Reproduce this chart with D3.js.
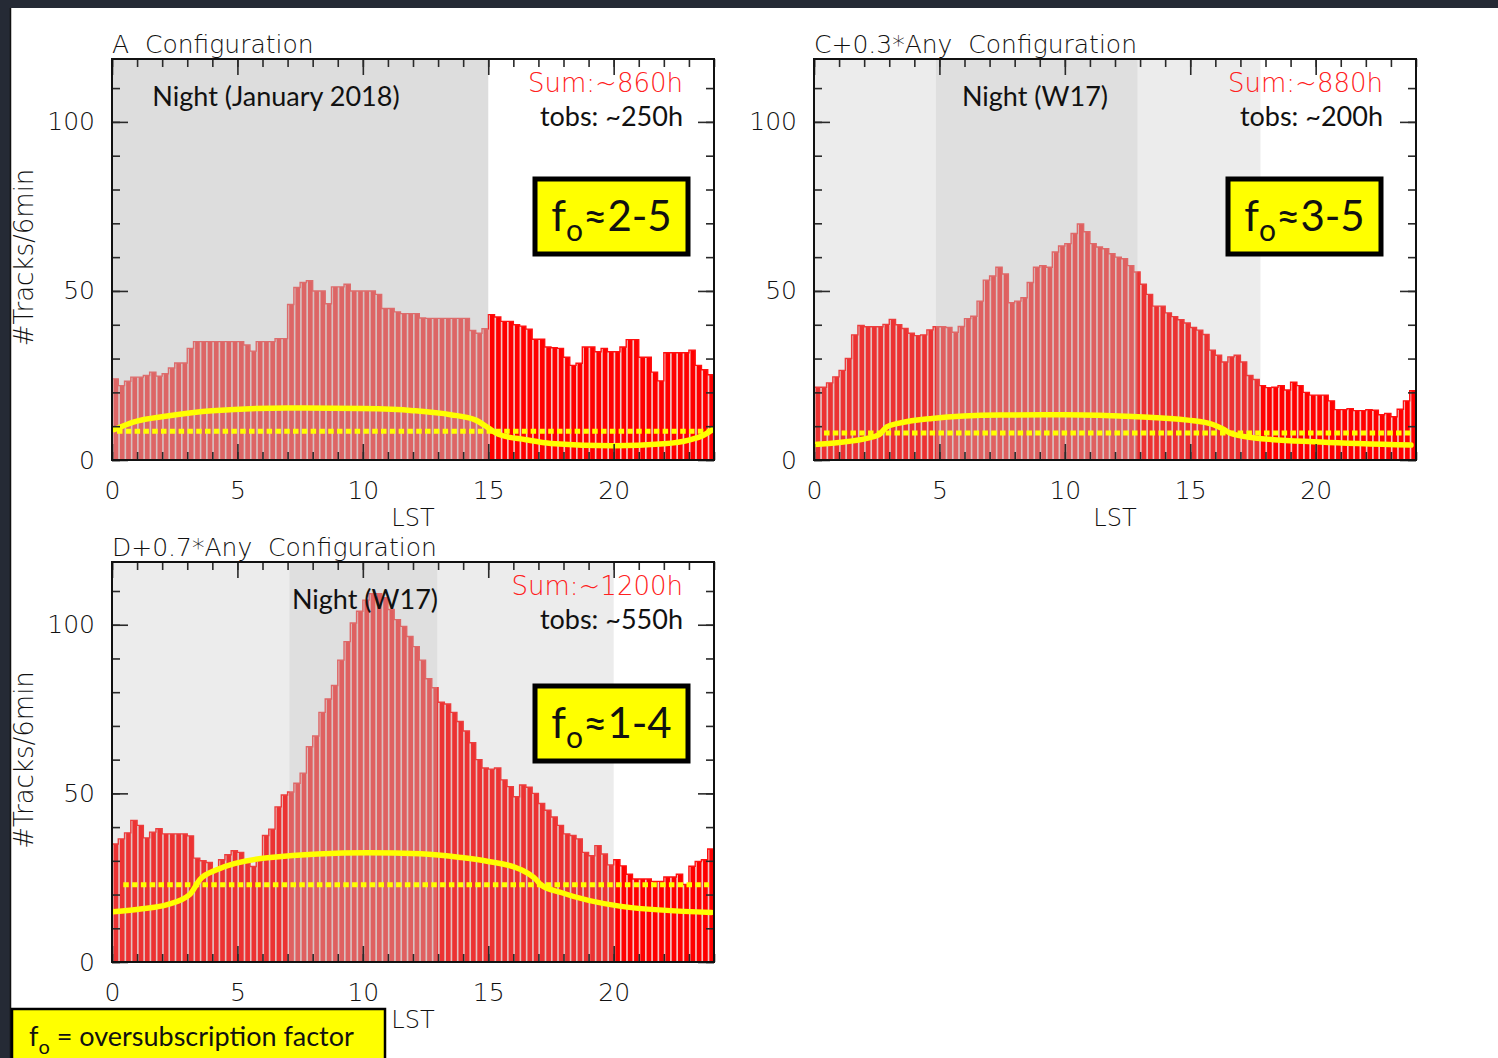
<!DOCTYPE html>
<html>
<head>
<meta charset="utf-8">
<script src="https://cdn.jsdelivr.net/npm/d3@7"></script>
<style>
  html, body { margin: 0; padding: 0; background: #262b36; }
  svg { display: block; }
  .pg { font-family: "DejaVu Sans", sans-serif; font-weight: 200; }
  .cal { font-family: "Lato", "Open Sans", sans-serif; }
</style>
</head>
<body>
<svg id="chart" width="1498" height="1058"></svg>
<script>
// Number of tracks per 6-minute slot, grouped into quarter-hour bins of LST (0..24 h)
const binWidth = 0.25;

const tracksA = [
  24, 22, 23.3, 24.5, 24.5, 25, 26, 24.8, 25.5, 27.2, 28.7, 28.7,
  33, 35, 35, 35, 35, 35, 35, 35, 35, 34, 32.2, 35,
  35, 35, 35.9, 35.9, 46, 51, 52.5, 53, 50, 50, 46.2, 51.2,
  51.2, 52, 50, 50, 50, 50, 49, 44.8, 44.8, 43.8, 43.3, 43.3,
  43.3, 42, 41.9, 41.9, 41.9, 41.9, 41.9, 41.9, 41.9, 38.3, 37.5, 38.8,
  43, 42.3, 41, 41, 40, 39.6, 38.7, 35.7, 35.7, 33.4, 33.2, 33,
  30.4, 28, 28.6, 33.4, 33.4, 32, 33, 32, 32, 33.4, 35.6, 35.6,
  30.4, 30.4, 26, 23.4, 31.7, 31.7, 31.7, 31.7, 32.5, 28, 26.7, 25.2
];

const tracksC = [
  21.5, 21.5, 22.8, 24.6, 26.5, 30, 37, 39.8, 39.4, 39.4, 39.4, 40.1,
  41.6, 40, 38.9, 37.5, 36.8, 37, 38.5, 39.4, 39.4, 39.2, 37.8, 39.5,
  41.8, 42.5, 47, 53.2, 54.4, 57, 55, 46.5, 47, 48, 52.5, 57,
  57.5, 57, 61.5, 63.3, 64, 67, 69.8, 67.5, 64, 63, 62.5, 61,
  60, 59.5, 57.5, 55.6, 52, 49, 45.5, 45.5, 43.5, 42.4, 41.5, 40.5,
  39.2, 38.4, 37.1, 32.5, 31, 29, 30.5, 31, 29, 25, 23.8, 22,
  21.4, 21.5, 22, 20.7, 23, 22, 20, 19.2, 19.2, 19.2, 17.5, 14.9,
  14.9, 15.2, 14.6, 14.6, 14.9, 14.7, 13.4, 13.8, 12.8, 15, 17.5, 20.5
];

const tracksD = [
  35, 36.5, 38.3, 42, 40.5, 36.8, 38.5, 39.5, 38, 38, 38, 38,
  37.4, 30.8, 30, 29.5, 27.2, 30.3, 31.8, 33, 32.5, 29.5, 28.3, 30,
  37.5, 39.4, 46, 49.5, 50.4, 53, 56, 63.8, 67, 74, 78, 82,
  89.5, 95, 100.5, 104, 107.3, 109.2, 109.2, 108, 104.5, 101.5, 99.5, 96.5,
  93.5, 89.5, 84, 81.3, 77, 76.5, 74, 71.3, 68.5, 65, 60, 57.5,
  57.2, 57.5, 54, 52, 49, 52.5, 51.8, 50, 47, 45, 43, 40.5,
  38, 37.5, 36.5, 32.5, 31.5, 34.5, 32, 28.8, 30.3, 28.5, 26, 24.6,
  24.6, 24.6, 23.9, 23.9, 25.2, 25.2, 26, 23, 28.4, 29.8, 30.3, 33.5
];

// Available-time curves [LST, tracks] and the flat reference level [from, to, tracks]
const availA = [[0.1, 9.0], [0.85, 11.2], [2.2, 13.0], [4, 14.6], [7, 15.4], [10, 15.2], [12, 14.6],
  [13.5, 13.4], [14.5, 11.8], [15, 9.5], [15.4, 7.6], [16.5, 6.0], [17.5, 4.9], [20, 4.2],
  [22, 4.8], [23, 5.9], [23.6, 7.4], [24, 9.3]];
const availC = [[0, 4.6], [1, 5.2], [2.1, 6.4], [2.6, 7.5], [2.9, 9.8], [3.4, 10.9], [4.7, 12.3],
  [7.4, 13.3], [10, 13.4], [12.7, 12.9], [14.9, 11.8], [15.9, 10.5], [16.3, 9.2], [16.6, 7.9],
  [17.5, 6.6], [20.2, 5.3], [23.8, 4.4]];
const availD = [[0.05, 14.9], [1.2, 15.8], [2.2, 17], [3.1, 20], [3.5, 24.4], [4.2, 27.4], [6.2, 30.9],
  [10.2, 32.4], [12.3, 32.1], [13.9, 31], [15, 29.8], [16.3, 27.4], [16.9, 24.5], [17.1, 22.9],
  [17.9, 20.6], [20.3, 16.5], [23.9, 14.7]];
const levelA = [0.2, 23.8, 8.5];
const levelC = [0.4, 23.8, 8.0];
const levelD = [0.45, 23.8, 22.9];

// Night windows [start LST, end LST, shade]
const nightA = [[0, 15, "dark"]];
const nightC = [[0, 4.86, "light"], [4.86, 12.9, "dark"], [12.9, 17.8, "light"]];
const nightD = [[0, 7.07, "light"], [7.07, 12.97, "dark"], [12.97, 20.0, "light"]];

const titles = ["A  Configuration", "C+0.3*Any  Configuration", "D+0.7*Any  Configuration"];
const nightLabels = ["Night (January 2018)", "Night (W17)", "Night (W17)"];
const sumLabels = ["Sum:~860h", "Sum:~880h", "Sum:~1200h"];
const tobsLabels = ["tobs: ~250h", "tobs: ~200h", "tobs: ~550h"];
const foRanges = ["≈2-5", "≈3-5", "≈1-4"];
const xMajorTicks = [0, 5, 10, 15, 20];
const yMajorTicks = [0, 50, 100];

const svg = d3.select("#chart");

// backdrop: dark border and white sheet
svg.append("rect").attr("width", 1498).attr("height", 1058).attr("fill", "#252a35");
svg.append("rect").attr("x", 10).attr("y", 8).attr("width", 1488).attr("height", 1050).attr("fill", "#ffffff");
svg.append("line").attr("x1", 10.5).attr("x2", 10.5).attr("y1", 8).attr("y2", 1058).attr("stroke", "#111").attr("stroke-width", 1.5);

const panels = [
  { x0: 112, y0: 59, w: 602, h: 401, tracks: tracksA, avail: availA, level: levelA, night: nightA,
    nightX: 276, sumX: 683, box: [535, 179], ylabel: true, dark: [190, 0.53] },
  { x0: 814, y0: 59, w: 602, h: 401, tracks: tracksC, avail: availC, level: levelC, night: nightC,
    nightX: 1035, sumX: 1383, box: [1228, 179], ylabel: false, dark: [192, 0.5] },
  { x0: 112, y0: 562, w: 602, h: 400, tracks: tracksD, avail: availD, level: levelD, night: nightD,
    nightX: 365, sumX: 683, box: [535, 686], ylabel: true, dark: [192, 0.5] }
];

const yTop = 118.6;

panels.forEach((p, k) => {
  const x = d3.scaleLinear().domain([0, 24]).range([0, p.w]);
  const y = d3.scaleLinear().domain([0, yTop]).range([p.h, 0]);
  const g = svg.append("g").attr("transform", `translate(${p.x0},${p.y0})`);

  const clipId = "clip" + k;
  g.append("clipPath").attr("id", clipId).append("rect").attr("width", p.w).attr("height", p.h);
  const plot = g.append("g").attr("clip-path", `url(#${clipId})`);

  const bins = p.tracks.map((v, i) => ({ x0: i * binWidth, x1: (i + 1) * binWidth, v }));

  // histogram envelope (shows through as pale stripes between bars)
  plot.append("g").selectAll("rect").data(bins).join("rect")
    .attr("x", d => x(d.x0)).attr("width", d => x(d.x1) - x(d.x0))
    .attr("y", d => y(d.v)).attr("height", d => y(0) - y(d.v))
    .attr("fill", "#f3c4c4");

  // bars
  plot.append("g").selectAll("rect").data(bins).join("rect")
    .attr("x", d => x(d.x0) + 1.6).attr("width", d => x(d.x1) - x(d.x0) - 1.6)
    .attr("y", d => y(d.v)).attr("height", d => y(0) - y(d.v))
    .attr("fill", "#ff0000");

  // step outline along the bar tops
  const stepPts = bins.map(d => [d.x0, d.v]).concat([[24, bins[bins.length - 1].v]]);
  plot.append("path").datum(stepPts)
    .attr("d", d3.line().x(d => x(d[0])).y(d => y(d[1])).curve(d3.curveStepAfter))
    .attr("fill", "none").attr("stroke", "#ff1010").attr("stroke-width", 1.4);

  // night shading laid over the histogram
  plot.append("g").selectAll("rect").data(p.night).join("rect")
    .attr("x", d => x(d[0])).attr("width", d => x(d[1]) - x(d[0]))
    .attr("y", 0).attr("height", p.h)
    .attr("fill", d => d[2] === "dark" ? `rgb(${p.dark[0]},${p.dark[0]},${p.dark[0]})` : "rgb(185,185,185)")
    .attr("fill-opacity", d => d[2] === "dark" ? p.dark[1] : 0.27);

  // flat reference level (dotted) and available-time curve (solid)
  plot.append("line")
    .attr("x1", x(p.level[0])).attr("x2", x(p.level[1]))
    .attr("y1", y(p.level[2])).attr("y2", y(p.level[2]))
    .attr("stroke", "#ffff00").attr("stroke-width", 5).attr("stroke-dasharray", "5.5 3.3");
  plot.append("path").datum(p.avail)
    .attr("d", d3.line().x(d => x(d[0])).y(d => y(d[1])).curve(d3.curveMonotoneX))
    .attr("fill", "none").attr("stroke", "#ffff00").attr("stroke-width", 5.5)
    .attr("stroke-linecap", "round");

  // axes: inward ticks on all four sides
  const tickStyle = sel => {
    sel.select(".domain").remove();
    sel.selectAll(".tick line").attr("stroke", "#2a2a2a").attr("stroke-width", 1.6);
  };
  const hourTicks = d3.range(0, 25, 1);
  const tenTicks = d3.range(0, yTop, 10);

  g.append("g").attr("transform", `translate(0,${p.h})`)
    .call(d3.axisBottom(x).tickValues(hourTicks).tickSize(-8).tickFormat("")).call(tickStyle);
  const xLab = g.append("g").attr("transform", `translate(0,${p.h})`)
    .call(d3.axisBottom(x).tickValues(xMajorTicks).tickSize(-16).tickPadding(21).tickFormat(d3.format("d")))
    .call(tickStyle);
  g.append("g")
    .call(d3.axisTop(x).tickValues(hourTicks).tickSize(-8).tickFormat("")).call(tickStyle);
  g.append("g")
    .call(d3.axisTop(x).tickValues(xMajorTicks).tickSize(-16).tickFormat("")).call(tickStyle);

  g.append("g")
    .call(d3.axisLeft(y).tickValues(tenTicks).tickSize(-8).tickFormat("")).call(tickStyle);
  const yLab = g.append("g")
    .call(d3.axisLeft(y).tickValues(yMajorTicks).tickSize(-16).tickPadding(17).tickFormat(d3.format("d")))
    .call(tickStyle);
  g.append("g").attr("transform", `translate(${p.w},0)`)
    .call(d3.axisRight(y).tickValues(tenTicks).tickSize(-8).tickFormat("")).call(tickStyle);
  g.append("g").attr("transform", `translate(${p.w},0)`)
    .call(d3.axisRight(y).tickValues(yMajorTicks).tickSize(-16).tickFormat("")).call(tickStyle);

  [xLab, yLab].forEach(a => a.selectAll("text")
    .attr("class", "pg").attr("font-family", null).attr("font-size", 25).attr("fill", "#111"));

  // frame
  g.append("rect").attr("width", p.w).attr("height", p.h)
    .attr("fill", "none").attr("stroke", "#111").attr("stroke-width", 2);

  // title above the frame
  g.append("text").attr("class", "pg").attr("x", 0).attr("y", -6)
    .attr("font-size", 25).attr("fill", "#111")
    .style("white-space", "pre").text(titles[k]);

  // x-axis name
  g.append("text").attr("class", "pg").attr("x", x(12)).attr("y", p.h + 66)
    .attr("text-anchor", "middle").attr("font-size", 24).attr("fill", "#111").text("LST");

  // y-axis name
  if (p.ylabel) {
    g.append("text").attr("class", "pg")
      .attr("transform", `translate(${33 - p.x0},${p.h / 2 - 2}) rotate(-90)`)
      .attr("text-anchor", "middle").attr("font-size", 26).attr("fill", "#111").text("#Tracks/6min");
  }

  // annotations
  g.append("text").attr("class", "cal").attr("x", p.nightX - p.x0).attr("y", 47)
    .attr("text-anchor", "middle").attr("font-size", 27).attr("fill", "#111").text(nightLabels[k]);
  g.append("text").attr("class", "pg").attr("x", p.sumX - p.x0).attr("y", 33)
    .attr("text-anchor", "end").attr("font-size", 26).attr("fill", "#ff2020").text(sumLabels[k]);
  g.append("text").attr("class", "cal").attr("x", p.sumX - p.x0).attr("y", 67)
    .attr("text-anchor", "end").attr("font-size", 27).attr("fill", "#111").text(tobsLabels[k]);

  // oversubscription box
  const bx = p.box[0] - p.x0, by = p.box[1] - p.y0;
  g.append("rect").attr("x", bx).attr("y", by).attr("width", 153).attr("height", 75)
    .attr("fill", "#ffff00").attr("stroke", "#000").attr("stroke-width", 5);
  const ft = g.append("text").attr("class", "cal").attr("x", bx + 76.5).attr("y", by + 52)
    .attr("text-anchor", "middle").attr("font-size", 42).attr("fill", "#111");
  ft.append("tspan").text("f");
  ft.append("tspan").attr("font-size", 30).attr("dy", 10).text("o");
  ft.append("tspan").attr("dy", -10).text(foRanges[k]);
});

// legend for the subscript
svg.append("rect").attr("x", 12).attr("y", 1009).attr("width", 373).attr("height", 60)
  .attr("fill", "#ffff00").attr("stroke", "#000").attr("stroke-width", 2.5);
const leg = svg.append("text").attr("class", "cal").attr("x", 29).attr("y", 1046)
  .attr("font-size", 27).attr("fill", "#111");
leg.append("tspan").text("f");
leg.append("tspan").attr("font-size", 20).attr("dy", 8).text("o");
leg.append("tspan").attr("dy", -8).text(" = oversubscription factor");
</script>
</body>
</html>
